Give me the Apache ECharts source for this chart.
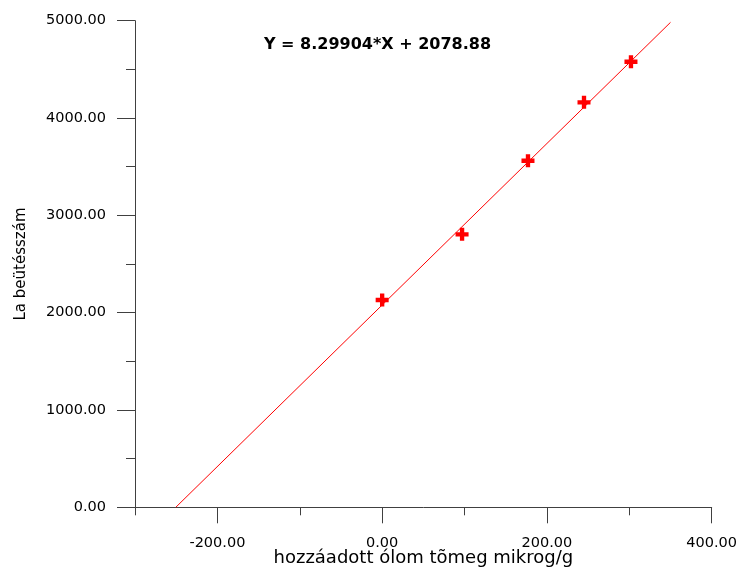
<!DOCTYPE html>
<html><head><meta charset="utf-8">
<script src="https://cdn.jsdelivr.net/npm/echarts@6/dist/echarts.min.js"></script>
<style>html,body{margin:0;padding:0;background:#fff}#c{width:738px;height:569px}</style>
</head><body><div id="c"></div>
<script>
// Data
const xTickValues = ['-300', '-200', '-100', '0', '100', '200', '300', '400'];
const pointX = [0, 97, 177, 245, 302];
const pointY = [2130, 2805, 3561, 4161, 4578];
const fitLineX = [-250.5, 350];
const fitLineY = [0, 4983];
const equationText = 'Y = 8.29904*X + 2078.88';
const xName = 'hozzáadott ólom tõmeg mikrog/g';
const yName = 'La beütésszám';

const FONT = '"DejaVu Sans", Verdana, sans-serif';
const AX = '#404040';
const TXT = '#000';
const plus = 'path://M4,0H8V4H12V8H8V12H4V8H0V4H4Z';

const chart = echarts.init(document.getElementById('c'), null, {renderer: 'canvas'});
const scatterData = pointX.map((x, i) => [x, pointY[i]]);
const lineData = fitLineX.map((x, i) => [x, fitLineY[i]]);
const isMajor = (idx, v) => Number(v) % 200 === 0;

chart.setOption({
  animation: false,
  backgroundColor: '#fff',
  grid: {left: 135, right: 26.3, top: 20.7, bottom: 61.7, containLabel: false, outerBoundsMode: 'none'},
  xAxis: [
    {
      type: 'value', min: -300, max: 400, interval: 100,
      axisLine: {show: true, onZero: false, lineStyle: {color: AX, width: 1}},
      axisTick: {show: true, length: 8, lineStyle: {color: AX}},
      axisLabel: {show: false},
      splitLine: {show: false},
      name: xName, nameLocation: 'middle', nameGap: 42,
      nameTextStyle: {fontFamily: FONT, fontSize: 18, color: TXT}
    },
    {
      type: 'category', data: xTickValues, boundaryGap: false, position: 'bottom',
      axisLine: {show: false},
      axisTick: {show: true, length: 16, interval: isMajor, lineStyle: {color: AX}},
      axisLabel: {show: true, interval: isMajor, margin: 28.5,
        formatter: v => Number(v).toFixed(2),
        fontFamily: FONT, fontSize: 14.5, color: TXT},
      splitLine: {show: false}
    }
  ],
  yAxis: {
    type: 'value', min: 0, max: 5000, interval: 1000,
    axisLine: {show: true, onZero: false, lineStyle: {color: AX, width: 1}},
    axisTick: {show: true, length: 18, lineStyle: {color: AX}},
    minorTick: {show: true, splitNumber: 2, length: 9, lineStyle: {color: AX}},
    axisLabel: {margin: 29, formatter: v => Number(v).toFixed(2),
      fontFamily: FONT, fontSize: 14.5, color: TXT},
    splitLine: {show: false},
    minorSplitLine: {show: false},
    name: yName, nameLocation: 'middle', nameGap: 106,
    nameTextStyle: {fontFamily: FONT, fontSize: 15, color: TXT}
  },
  graphic: [{
    type: 'text', x: 377.5, y: 45.3,
    style: {text: equationText, font: 'bold 16px ' + FONT, fill: TXT,
      align: 'center', verticalAlign: 'middle'}
  }],
  series: [
    {
      type: 'line', data: lineData, xAxisIndex: 0, yAxisIndex: 0,
      showSymbol: false, symbol: 'none',
      lineStyle: {color: '#ff0000', width: 1}, z: 2, silent: true
    },
    {
      type: 'scatter', data: scatterData, xAxisIndex: 0, yAxisIndex: 0,
      symbol: plus, symbolSize: 13,
      itemStyle: {color: '#ff0000', opacity: 1}, z: 3
    }
  ]
});
</script>
</body></html>
